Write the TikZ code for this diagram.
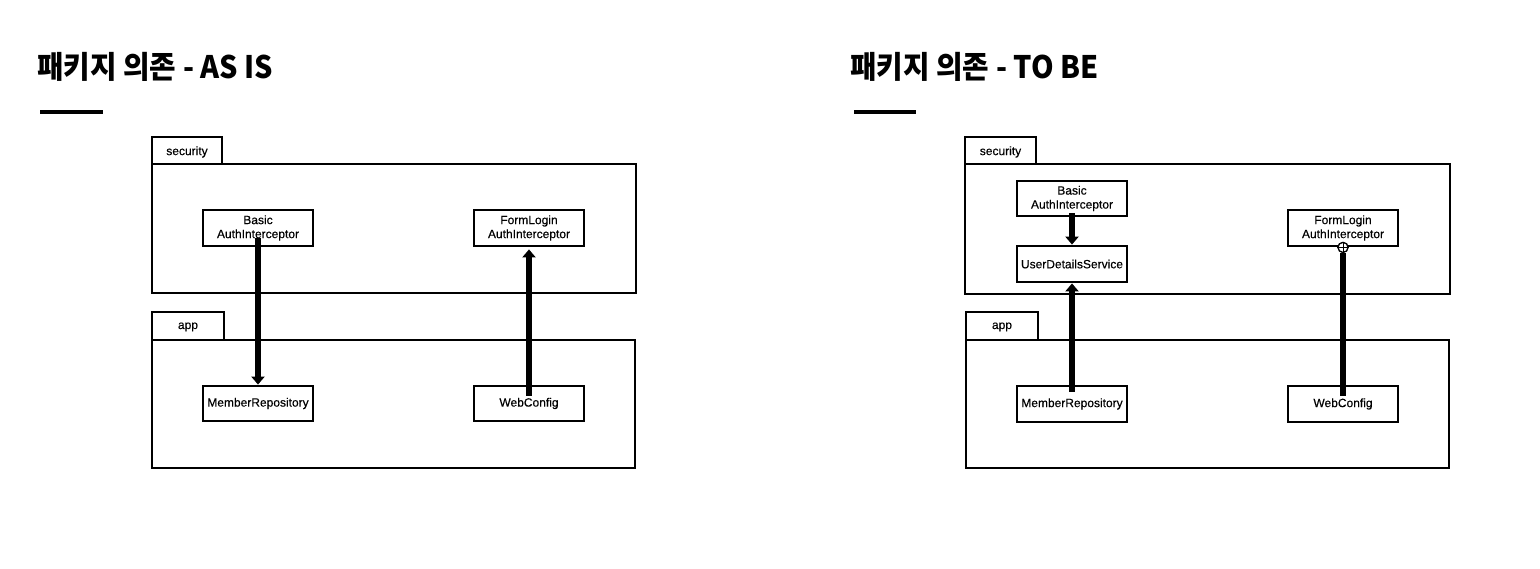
\documentclass[tikz,border=0pt]{standalone}
\usepackage{fontspec}
\usepackage{graphicx}
\setmainfont{Liberation Sans}
\newfontfamily\boxfont{Liberation Sans}[FakeBold=0.35]
\newfontfamily\krfont{Noto Sans CJK KR}
\usetikzlibrary{arrows.meta}
\tikzset{
  cls/.style={draw, line width=2.8pt, minimum width=110pt, minimum height=35pt, inner sep=1pt, align=center, font=\boxfont\fontsize{12}{14}\selectfont},
  pkg/.style={draw, line width=2.8pt},
  tablabel/.style={font=\boxfont\fontsize{12}{14}\selectfont},
  conn/.style={line width=5.5pt},
  dep/.style={conn, -{Triangle[width=13pt,length=8pt]}},
  ttl/.style={anchor=west, inner sep=0pt, font=\krfont\bfseries\fontsize{31}{34}\selectfont},
  uline/.style={line width=3.5pt},
  nest/.style={circle, draw, line width=1.2pt, fill=white, inner sep=0pt, minimum size=10pt}
}
\begin{document}
\begin{tikzpicture}[x=1pt,y=-1pt]
\useasboundingbox (0,0) rectangle (1540,568);
% ---------- AS IS ----------
\node[ttl] (t1) at (37,67) {\scalebox{0.93}[1]{패키지 의존 - AS IS}};
\draw[uline] (40,112) -- (103,112);
\draw[pkg] (152,137) rectangle (222,164);
\node[tablabel] (ls) at (187,152) {security};
\draw[pkg] (152,164) rectangle (636,293);
\draw[pkg] (152,312) rectangle (224,340);
\node[tablabel] (la) at (188,327) {app};
\draw[pkg] (152,340) rectangle (635,468);
\node[cls, minimum height=36pt] (lbasic) at (258,228) {Basic\\AuthInterceptor};
\node[cls, minimum height=36pt] (lform) at (529,228) {FormLogin\\AuthInterceptor};
\node[cls] (lmember) at (258,403.5) {MemberRepository};
\node[cls] (lweb) at (529,403.5) {WebConfig};
\draw[dep, shorten <=-9pt] (lbasic) -- (lmember);
\draw[dep, shorten <=-11pt, shorten >=2pt] (lweb) -- (lform);
% ---------- TO BE ----------
\node[ttl] (t2) at (850,67) {\scalebox{0.93}[1]{패키지 의존 - TO BE}};
\draw[uline] (854,112) -- (916,112);
\draw[pkg] (965,137) rectangle (1036,164);
\node[tablabel] (rs) at (1000.5,152) {security};
\draw[pkg] (965,164) rectangle (1450,294);
\draw[pkg] (966,312) rectangle (1038,340);
\node[tablabel] (ra) at (1002,327) {app};
\draw[pkg] (966,340) rectangle (1449,468);
\node[cls] (rbasic) at (1072,198.5) {Basic\\AuthInterceptor};
\node[cls, minimum height=36pt] (ruds) at (1072,264) {UserDetailsService};
\node[cls, minimum height=36pt] (rform) at (1343,228) {FormLogin\\AuthInterceptor};
\node[cls, minimum height=36pt] (rmember) at (1072,404) {MemberRepository};
\node[cls, minimum height=36pt] (rweb) at (1343,404) {WebConfig};
\draw[dep, shorten <=-4pt] (rbasic) -- (ruds);
\draw[dep, shorten <=-7pt] (rmember) -- (ruds);
\node[nest] (rplus) at (rform.south) {};
\draw[conn, shorten <=-11pt] (rweb) -- (rplus);
\node[nest] (rplus2) at (rform.south) {};
\draw[line width=0.9pt] (rplus2.north) -- (rplus2.south) (rplus2.west) -- (rplus2.east);
\end{tikzpicture}
\end{document}
